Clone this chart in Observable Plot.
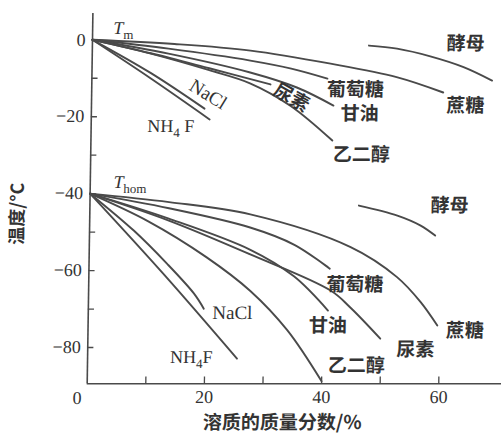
<!DOCTYPE html>
<html><head><meta charset="utf-8">
<script src="https://cdn.jsdelivr.net/npm/d3@7"></script>
<script src="https://cdn.jsdelivr.net/npm/@observablehq/plot@0.6"></script>
<style>
body{margin:0;background:#fff;overflow:hidden}
#chart svg{overflow:visible;transform:skewX(-0.883deg);transform-origin:0 0}
</style>
</head><body><div id="chart"></div>
<script>
// ---- data (mass fraction %, temperature °C) ----
const xTicks = [10, 20, 30, 40, 50, 60];
const xTickLabels = [20, 40, 60];
const yTicks = [-10, -20, -30, -40, -50, -60, -70, -80];
const yTickLabels = [0, -20, -40, -60, -80];

// melting curves (from Tm)
const tmYeast    = [[47.2,-1.5],[52.0,-2.3],[57.7,-4.3],[63.4,-7.1],[68.3,-10.6]];
const tmSucrose  = [[0,0],[14,-1.1],[27,-2.8],[40.7,-6.2],[52,-9.7],[60,-13.7]];
const tmGlucose  = [[0,0],[13,-2.3],[27,-5.4],[34,-7.5],[40.2,-10.1]];
const tmGlycerol = [[0,0],[13,-3.6],[27,-8.5],[35,-12.4],[41.3,-17.1]];
const tmUrea     = [[0,0],[10,-3.5],[20,-7.4],[30.5,-11.6]];
const tmGlycol   = [[0,0],[10,-3.6],[20,-7.9],[27,-11.3],[34,-17.2],[41.2,-26.2]];
const tmNaCl     = [[0,0],[10,-8.6],[19.3,-17.9]];
const tmNH4F     = [[0,0],[10,-10],[20.2,-20.7]];

// homogeneous nucleation curves (from Thom)
const thYeast    = [[45.9,-43.1],[52.5,-45.7],[56.5,-48.3],[59.0,-50.9]];
const thSucrose  = [[0,-40],[13.5,-42.2],[27.4,-45.4],[44.6,-53.9],[52.6,-61.7],[56.7,-68.2],[59.6,-74.3]];
const thGlucose  = [[0,-40],[13.5,-43.8],[27.4,-48.8],[35,-53.3],[41.1,-59.5]];
const thGlycerol = [[0,-40],[13.5,-46.5],[27.5,-54.6],[35,-61.5],[40.9,-70.4]];
const thUrea     = [[0,-40],[13.5,-47],[27.5,-55.8],[41.3,-65.2],[44.7,-69.6],[49.9,-77.7]];
const thGlycol   = [[0,-40],[10,-47.2],[20,-56.5],[27.6,-65.3],[34,-75.5],[40,-88.8]];
const thNaCl     = [[0,-40],[7.55,-49.6],[13.3,-58.2],[18,-66.0],[19.7,-69.9]];
const thNH4F     = [[0,-40],[12.8,-61],[25.5,-82.9]];

// annotation labels
const cjkLabels = [
  {text:"酵母", x:63.7, y:-1.0, r:0},
  {text:"蔗糖", x:63.8, y:-17.1, r:0},
  {text:"葡萄糖", x:45.0, y:-12.9, r:0},
  {text:"甘油", x:45.8, y:-19.2, r:0},
  {text:"乙二醇", x:46.2, y:-29.8, r:0},
  {text:"尿素", x:34.1, y:-15.1, r:29},
  {text:"酵母", x:61.4, y:-43.1, r:0},
  {text:"葡萄糖", x:45.4, y:-63.6, r:0},
  {text:"蔗糖", x:64.3, y:-75.8, r:0},
  {text:"甘油", x:40.9, y:-74.3, r:0},
  {text:"尿素", x:55.9, y:-80.5, r:0},
  {text:"乙二醇", x:45.9, y:-84.7, r:0}
];
const serifLabels = [
  {text:"NaCl", x:19.9, y:-14.2, r:31},
  {text:"NaCl", x:24.6, y:-70.9, r:0}
];
const startLabels = [
  {text:"T_m", x:3.55, y:2.9},
  {text:"T_hom", x:3.96, y:-37.1},
  {text:"NH_4_ F", x:9.6, y:-22.5},
  {text:"NH_4_F", x:14.1, y:-82.6}
];
const originLabel = "0";
const xTitle = "溶质的质量分数/%";
const yTitle = "温度/°C";

// ---- build ----
const groups = [
  ["tmYeast",tmYeast],["tmSucrose",tmSucrose],["tmGlucose",tmGlucose],["tmGlycerol",tmGlycerol],
  ["tmUrea",tmUrea],["tmGlycol",tmGlycol],["tmNaCl",tmNaCl],["tmNH4F",tmNH4F],
  ["thYeast",thYeast],["thSucrose",thSucrose],["thGlucose",thGlucose],["thGlycerol",thGlycerol],
  ["thUrea",thUrea],["thGlycol",thGlycol],["thNaCl",thNaCl],["thNH4F",thNH4F]
];
const rows = groups.flatMap(([name, pts]) => pts.map(([x, y]) => ({name, x, y})));
const tickRows = xTickLabels.map(v => ({v, label: String(v)}));

const yMin = -89.44, yMax = 6.84, xMax = 69.7;
const ink = "#4a4a4a";
const cjk = "Noto Sans CJK SC";

const chart = Plot.plot({
  width: 501, height: 435,
  marginLeft: 92.6, marginRight: 0, marginTop: 13, marginBottom: 51.7,
  x: {domain: [0, xMax], axis: null},
  y: {domain: [yMin, yMax]},
  style: {fontFamily: "Liberation Serif", fontSize: "18px", color: "#333", background: "transparent"},
  marks: [
    Plot.ruleX([0], {y1: yMin, y2: yMax, stroke: ink, strokeWidth: 1.6}),
    Plot.ruleY([yMin], {x1: 0, x2: 71.5, stroke: ink, strokeWidth: 1.6}),
    Plot.ruleY(yTicks, {x1: 0, x2: 1.05, stroke: ink, strokeWidth: 1.3}),
    Plot.ruleX(xTicks, {y1: yMin, y2: yMin + 1.8, stroke: ink, strokeWidth: 1.3}),
    Plot.axisY({ticks: yTickLabels, tickSize: 0, tickPadding: 7, label: null, fontSize: 18}),
    Plot.line(rows, {x: "x", y: "y", z: "name", curve: "catmull-rom", stroke: ink, strokeWidth: 1.9}),
    Plot.text(cjkLabels, {x: "x", y: "y", text: "text", rotate: "r", fontFamily: cjk, fontWeight: "bold", fontSize: 19, fill: "#333"}),
    Plot.text(serifLabels, {x: "x", y: "y", text: "text", rotate: "r", fontSize: 19, fill: "#333"}),
    Plot.text(startLabels, {x: "x", y: "y", text: "text", textAnchor: "start", fontSize: 18, fill: "#333"}),
    Plot.text([xTitle], {x: 33.4, y: -99.6, text: d => d, fontFamily: cjk, fontWeight: "bold", fontSize: 19, fill: "#333"}),
    Plot.text([yTitle], {x: -12.3, y: -45.2, text: d => d, rotate: -90, fontFamily: cjk, fontWeight: "bold", fontSize: 18, fill: "#333"}),
    Plot.text([originLabel], {x: 0, y: yMin, text: d => d, dx: -10, dy: 14, fontSize: 18, fill: "#333"}),
    Plot.text(tickRows, {x: "v", y: yMin, text: "label", dy: 13, fontSize: 18, fill: "#333"})
  ]
});

// subscripts: "A_b_c" -> A, subscript b, c
chart.querySelectorAll("text").forEach(t => {
  const s = t.textContent;
  if (!s.includes("_")) return;
  const parts = s.split("_");
  t.textContent = "";
  parts.forEach((p, i) => {
    const ts = document.createElementNS("http://www.w3.org/2000/svg", "tspan");
    ts.textContent = p;
    if (i === 0 && p === "T") ts.setAttribute("font-style", "italic");
    if (i === 1) { ts.setAttribute("font-size", "13"); ts.setAttribute("dy", "5"); }
    if (i === 2) { ts.setAttribute("dy", "-5"); }
    t.appendChild(ts);
  });
});

document.getElementById("chart").appendChild(chart);
</script>
</body></html>
